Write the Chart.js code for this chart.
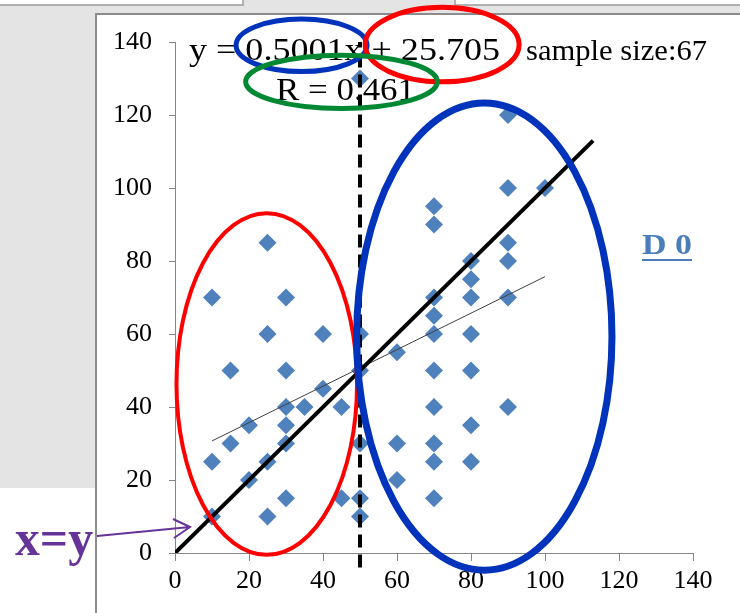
<!DOCTYPE html>
<html>
<head>
<meta charset="utf-8">
<script src="https://cdn.jsdelivr.net/npm/chart.js@4"></script>
<style>
  html, body { margin: 0; padding: 0; background: #fff; }
  #chart { display: block; }
</style>
</head>
<body>
<canvas id="chart" width="740" height="613"></canvas>
<script>
// scatter values (x, y pairs)
const xVals = [10,10,10,15,15,20,20,25,25,25,25,30,30,30,30,30,30,35,40,40,45,45,50,50,50,50,50,50,60,60,60,70,70,70,70,70,70,70,70,70,70,80,80,80,80,80,80,80,90,90,90,90,90,90,100];
const yVals = [70,25,10,50,30,35,20,85,60,25,10,70,50,40,35,30,15,40,60,45,40,15,130,60,50,30,15,10,55,30,20,95,90,70,65,60,50,40,30,25,15,80,75,70,60,50,35,25,120,100,85,80,70,40,100];

// regression from the label y = 0.5001x + 25.705
const slope = 0.5001;
const intercept = 25.705;
const trendX = [10, 100];

// x = y reference line and the split at x = 50
const identityX = [0, 113];
const splitX = 50;
const splitY = [-4, 140];

const axisMin = 0, axisMax = 140, axisStep = 20;

// annotation ellipses, in data units [cx, cy, rx, ry, colour, width]
const ellipses = [
  [24.8, 46.3, 24.4, 46.8, '#ff0000', 4],
  [83.6, 59.3, 34.5, 64.0, '#0033bb', 7],
  [34.2, 139.1, 17.7, 7.2, '#0033bb', 5],
  [72.2, 139.3, 20.8, 10.2, '#ff0000', 5],
  [45.0, 129.1, 25.9, 7.3, '#008833', 5]
];

const points = xVals.map((x, i) => ({ x: x, y: yVals[i] }));
const trend = trendX.map(x => ({ x: x, y: slope * x + intercept }));
const identity = identityX.map(v => ({ x: v, y: v }));
const split = splitY.map(y => ({ x: splitX, y: y }));

const serif = "'Liberation Serif', 'Times New Roman', serif";

// draw text stretched to a given width
function fitText(ctx, txt, x, y, size, width, bold) {
  ctx.font = (bold ? 'bold ' : '') + size + 'px ' + serif;
  const w = ctx.measureText(txt).width;
  ctx.save();
  ctx.translate(x, y);
  ctx.scale(width / w, 1);
  ctx.fillText(txt, 0, 0);
  ctx.restore();
}

// slide background and frame
const backdrop = {
  id: 'backdrop',
  beforeDraw(chart) {
    const ctx = chart.ctx;
    ctx.save();
    ctx.fillStyle = '#ffffff';
    ctx.fillRect(0, 0, 740, 613);
    ctx.fillStyle = '#e4e4e4';
    ctx.fillRect(0, 0, 95, 488);
    ctx.fillRect(0, 0, 740, 13);
    ctx.fillStyle = '#ffffff';
    ctx.fillRect(0, 0, 243, 5);
    ctx.fillRect(455, 0, 285, 5);
    ctx.strokeStyle = '#9a9a9a';
    ctx.lineWidth = 1.5;
    ctx.strokeRect(-2, -2, 245, 7);
    ctx.strokeRect(455, -2, 300, 7);
    ctx.strokeStyle = '#8c8c8c';
    ctx.lineWidth = 2;
    ctx.strokeRect(96, 14, 700, 700);
    ctx.restore();
  }
};

// equation labels sit under the lines
const labels = {
  id: 'labels',
  beforeDatasetsDraw(chart) {
    const ctx = chart.ctx;
    ctx.save();
    ctx.fillStyle = '#000';
    ctx.textBaseline = 'alphabetic';
    fitText(ctx, 'y = 0.5001x + 25.705', 189, 60, 32, 311);
    fitText(ctx, 'sample size:67', 526, 60, 30, 181);
    fitText(ctx, 'R = 0.461', 276, 100, 32, 139);
    ctx.restore();
  }
};

// ellipses, x=y note and D 0 tag on top
const marks = {
  id: 'marks',
  afterDatasetsDraw(chart) {
    const ctx = chart.ctx;
    const xs = chart.scales.x, ys = chart.scales.y;
    ctx.save();
    ellipses.forEach(e => {
      const cx = xs.getPixelForValue(e[0]);
      const cy = ys.getPixelForValue(e[1]);
      const rx = xs.getPixelForValue(e[0] + e[2]) - cx;
      const ry = cy - ys.getPixelForValue(e[1] + e[3]);
      ctx.beginPath();
      ctx.ellipse(cx, cy, rx, ry, 0, 0, Math.PI * 2);
      ctx.strokeStyle = e[4];
      ctx.lineWidth = e[5];
      ctx.stroke();
    });

    // x=y pointer
    ctx.fillStyle = '#663399';
    fitText(ctx, 'x=y', 15, 555, 50, 78, true);
    ctx.strokeStyle = '#663399';
    ctx.lineWidth = 2;
    ctx.beginPath();
    ctx.moveTo(97, 536);
    ctx.lineTo(190, 527);
    ctx.moveTo(173, 519);
    ctx.lineTo(190, 527);
    ctx.lineTo(174, 538);
    ctx.stroke();

    // D 0
    ctx.fillStyle = '#4a7ebb';
    fitText(ctx, 'D 0', 642, 254, 30, 50, true);
    ctx.fillRect(642, 259, 50, 2);
    ctx.restore();
  }
};

const axisStyle = (tick, pad) => ({
  type: 'linear',
  min: axisMin,
  max: axisMax,
  ticks: {
    stepSize: axisStep,
    color: '#000',
    font: { family: serif, size: 26 },
    padding: pad,
    maxRotation: 0,
    autoSkip: false
  },
  grid: { drawOnChartArea: false, color: '#868686', tickLength: tick },
  border: { color: '#868686', width: 1 }
});

const xAxis = axisStyle(8, 5);
xAxis.afterFit = s => { s.height = 60; };
const yAxis = axisStyle(6, 17);
yAxis.afterFit = s => { s.width = 175; };

new Chart(document.getElementById('chart'), {
  type: 'scatter',
  data: {
    datasets: [
      {
        data: split, showLine: true, borderColor: '#000', borderWidth: 4,
        borderDash: [13, 7], pointRadius: 0, clip: false, order: 0
      },
      {
        data: identity, showLine: true, borderColor: '#000', borderWidth: 4,
        pointRadius: 0, order: 1
      },
      {
        data: trend, showLine: true, borderColor: '#404040', borderWidth: 1,
        pointRadius: 0, order: 2
      },
      {
        data: points, pointStyle: 'rectRot', pointRadius: 9,
        backgroundColor: '#4f81bd', borderColor: '#4f81bd', borderWidth: 0, order: 3
      }
    ]
  },
  options: {
    responsive: false,
    animation: false,
    devicePixelRatio: 1,
    layout: { padding: { top: 42, right: 47, left: 0, bottom: 0 } },
    plugins: { legend: { display: false }, tooltip: { enabled: false } },
    scales: { x: xAxis, y: yAxis }
  },
  plugins: [backdrop, labels, marks]
});
</script>
</body>
</html>
